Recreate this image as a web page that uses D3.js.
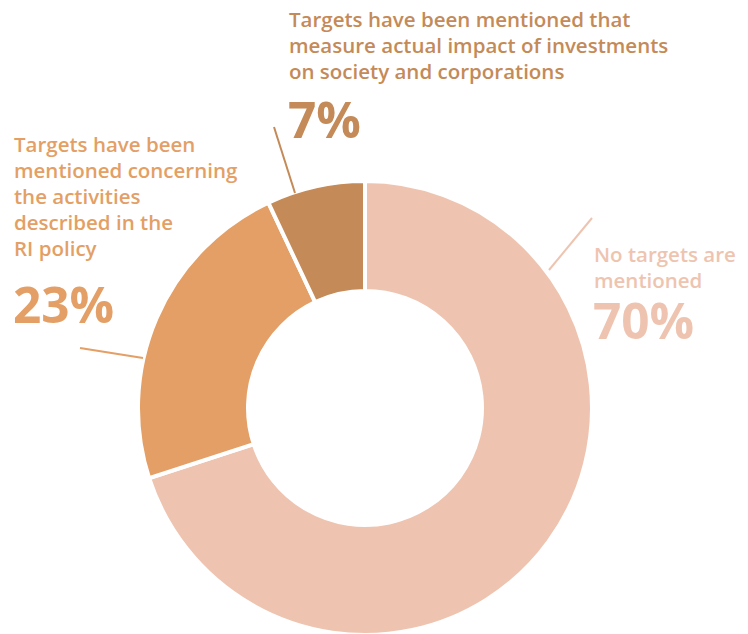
<!DOCTYPE html>
<html><head><meta charset="utf-8">
<script src="https://cdn.jsdelivr.net/npm/d3@7"></script>
<style>body{margin:0;background:#fff}svg{display:block}</style>
</head><body>
<svg id="c" width="748" height="634"></svg>
<script>
const categories = ["No targets are mentioned", "Targets have been mentioned concerning the activities described in the RI policy", "Targets have been mentioned that measure actual impact of investments on society and corporations"];
const values = [70, 23, 7];
const valueLabels = ["70%", "23%", "7%"];
const colors = ["#EEC4B0", "#E39F65", "#C48A57"];
const labelLines = [
  ["No targets are", "mentioned"],
  ["Targets have been", "mentioned concerning", "the activities", "described in the", "RI policy"],
  ["Targets have been mentioned that", "measure actual impact of investments", "on society and corporations"]
];

const svg = d3.select("#c");
const cx = 365, cy = 408, rOuter = 227, rInner = 117;
const pie = d3.pie().sort(null).value(d => d)(values);
const arc = d3.arc().innerRadius(rInner).outerRadius(rOuter);
const g = svg.append("g").attr("transform", `translate(${cx},${cy})`);
g.selectAll("path").data(pie).join("path")
  .attr("d", arc).attr("fill", (d, i) => colors[i])
  .attr("stroke", "#fff").attr("stroke-width", 4).attr("stroke-linejoin", "miter");

const layout = [
  {x: 594, y: 262, dy: 26, pctY: 339, line: [[549, 270], [592, 218]]},
  {x: 14, y: 152, dy: 26, pctY: 323, line: [[80, 348], [143, 358]]},
  {x: 289, y: 27, dy: 26, pctY: 138, line: [[274, 127], [295, 193]]}
];
const font = "'Open Sans', sans-serif";
layout.forEach((L, i) => {
  svg.append("line").attr("x1", L.line[0][0]).attr("y1", L.line[0][1])
    .attr("x2", L.line[1][0]).attr("y2", L.line[1][1])
    .attr("stroke", colors[i]).attr("stroke-width", 2);
  const t = svg.append("text").attr("font-family", font).attr("font-weight", 600)
    .attr("font-size", 20.5).attr("fill", colors[i]);
  labelLines[i].forEach((s, j) => {
    t.append("tspan").attr("x", L.x).attr("y", L.y + j * L.dy).text(s);
  });
  svg.append("text").attr("font-family", font).attr("font-weight", 700)
    .attr("font-size", 49.5).attr("fill", colors[i])
    .attr("x", L.x - 1).attr("y", L.pctY).text(valueLabels[i]);
});
</script>
</body></html>
